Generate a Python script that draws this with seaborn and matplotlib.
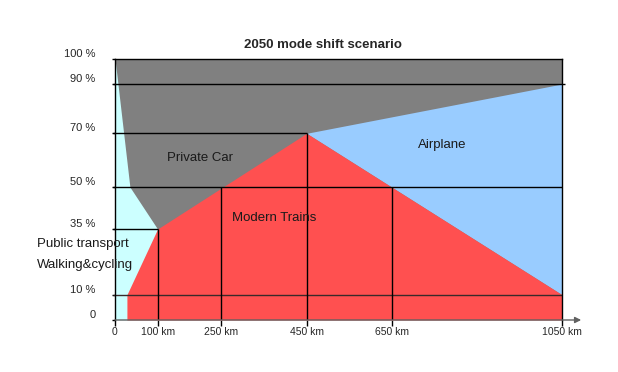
import numpy as np
import seaborn as sns
import matplotlib.pyplot as plt

# Trip distance ticks (km) and share ticks (%)
distance_ticks = [0, 100, 250, 450, 650, 1050]
distance_labels = ["0", "100 km", "250 km", "450 km", "650 km", "1050 km"]
share_ticks = [0, 10, 35, 50, 70, 90, 100]
share_labels = ["0", "10 %", "35 %", "50 %", "70 %", "90 %", "100 %"]
# the original drawing does not space the share levels evenly (pixels above the axis)
share_px = [0, 25.3, 91, 133, 186.7, 236, 261.3]

# Lower boundary of the private car area
car_floor_km = [0, 35, 100, 450, 1050]
car_floor_pct = [100, 50, 35, 70, 90]

# Upper boundary of the modern trains area
train_km = [28, 28, 100, 450, 1050]
train_pct = [0, 10, 35, 70, 10]

# Reference lines: (level, start, end)
hlines_pct = [90, 70, 50, 35, 10]
hlines_from = [0, 0, 0, 0, 0]
hlines_to = [1050, 450, 1050, 100, 1050]
vlines_km = [100, 250, 450, 650]
vlines_top = [35, 50, 70, 50]

sns.set_theme(style="white")
plt.rcParams["font.family"] = ["Liberation Sans", "DejaVu Sans"]

fig = plt.figure(figsize=(6.18, 3.72), dpi=100)
ax = fig.add_axes([115 / 618, 1 - 320 / 372, 447 / 618, 261.3 / 372])


def fwd(v):
    return np.interp(v, share_ticks, share_px)


def inv(u):
    return np.interp(u, share_px, share_ticks)


ax.set_yscale("function", functions=(fwd, inv))

gray = "#808080"
cyan = "#CCFFFF"
red = "#FF5050"
blue = "#99CCFF"

# Areas
ax.fill_between([0, 1050], 0, 100, color=gray, lw=0)
ax.fill_between(car_floor_km[:3], 0, car_floor_pct[:3], color=cyan, lw=0)
ax.fill_between(car_floor_km[3:], train_pct[3:], car_floor_pct[3:], color=blue, lw=0)
ax.fill_between(train_km, 0, train_pct, color=red, lw=0)

# Reference lines
for y, x0, x1 in zip(hlines_pct, hlines_from, hlines_to):
    c = "#3a2a2a" if y == 10 else "black"
    ax.plot([x0 - 5, x1 + (8 if y == 90 else 0)], [y, y], color=c, lw=1.0,
            clip_on=False, solid_capstyle="butt")
for x, top in zip(vlines_km, vlines_top):
    ax.plot([x, x], [0, top], color="black", lw=1.0, solid_capstyle="butt")

ax.set_xlim(0, 1050)
ax.set_ylim(0, 100)

ax.set_xticks(distance_ticks)
ax.set_xticklabels(distance_labels, fontsize=7.5)
ax.set_yticks(share_ticks)
ax.set_yticklabels(share_labels, fontsize=8)
ax.minorticks_off()
for lab in ax.get_yticklabels():
    lab.set_va("bottom")
ax.tick_params(axis="x", length=4, width=1, color="black", pad=1,
               direction="out", bottom=True)
ax.tick_params(axis="y", length=2, width=1, color="black", pad=12,
               direction="out", left=True)

for side in ["left", "right", "top"]:
    ax.spines[side].set_color("black")
    ax.spines[side].set_linewidth(1.0)
ax.spines["bottom"].set_visible(False)

# x axis with arrow
ax.annotate("", xy=(1095, 0), xytext=(0, 0), xycoords="data",
            arrowprops=dict(arrowstyle="-|>", color="#606060", lw=1.0,
                            mutation_scale=9, shrinkA=0, shrinkB=0),
            annotation_clip=False)

# Area labels
txt = dict(fontsize=9.5, color="#1a1a1a")
ax.text(200, 60.8, "Private Car", ha="center", va="center", **txt)
ax.text(373, 38.9, "Modern Trains", ha="center", va="center", **txt)
ax.text(768, 65.6, "Airplane", ha="center", va="center", **txt)
ax.text(-184, 29.3, "Public transport", ha="left", va="center", clip_on=False, **txt)
ax.text(-184, 21.3, "Walking&cycling", ha="left", va="center", clip_on=False, **txt)

fig.text(323 / 618, 1 - 45 / 372, "2050 mode shift scenario", ha="center",
         va="center", fontsize=9.5, fontweight="bold")

fig.savefig("out.png", dpi=100)
